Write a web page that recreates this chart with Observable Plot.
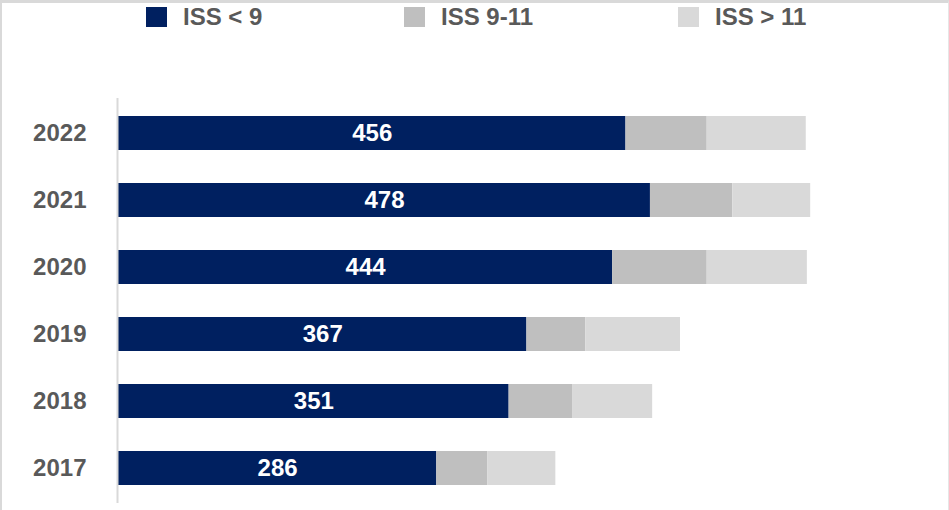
<!DOCTYPE html>
<html>
<head>
<meta charset="utf-8">
<script src="https://cdn.jsdelivr.net/npm/d3@7"></script>
<script src="https://cdn.jsdelivr.net/npm/@observablehq/plot@0.6"></script>
<style>
  html, body { margin: 0; padding: 0; background: #fff; }
  body { width: 949px; height: 510px; position: relative; overflow: hidden;
         font-family: "Liberation Sans", Arial, sans-serif; }
  #frame { position: absolute; left: 0; top: 0; width: 949px; height: 510px; box-sizing: border-box;
           border-top: 3px solid #d9d9d9; border-left: 2px solid #d9d9d9; border-right: 1px solid #e6e6e6;
           pointer-events: none; }
  .sw { position: absolute; top: 7px; width: 21px; height: 20px; }
  .lt { position: absolute; top: 3px; font-size: 24px; font-weight: bold; color: #595959; line-height: 28px; white-space: nowrap; }
  #chart { position: absolute; left: 0; top: 40px; }
</style>
</head>
<body>
<div id="legend"></div>
<div id="chart"></div>
<div id="frame"></div>
<script>
const years = ["2017", "2018", "2019", "2020", "2021", "2022"];
const issLow = [286, 351, 367, 444, 478, 456];
const issMid = [46, 57, 53, 85, 74, 73];
const issHigh = [61, 72, 85, 90, 70, 89];
const seriesNames = ["ISS < 9", "ISS 9-11", "ISS > 11"];
const seriesColors = ["#002060", "#bfbfbf", "#d9d9d9"];

const rows = [];
years.forEach((y, i) => {
  rows.push({year: y, series: seriesNames[0], value: issLow[i]});
  rows.push({year: y, series: seriesNames[1], value: issMid[i]});
  rows.push({year: y, series: seriesNames[2], value: issHigh[i]});
});
const lowRows = years.map((y, i) => ({year: y, value: issLow[i]}));

// legend
const legend = document.getElementById("legend");
const swX = [146, 404, 678];
seriesNames.forEach((name, i) => {
  const s = document.createElement("div");
  s.className = "sw"; s.style.left = swX[i] + "px"; s.style.background = seriesColors[i];
  legend.appendChild(s);
  const t = document.createElement("div");
  t.className = "lt"; t.style.left = (swX[i] + 37) + "px"; t.textContent = name;
  legend.appendChild(t);
});

const chart = Plot.plot({
  width: 949,
  height: 470,
  marginLeft: 118,
  marginRight: 52,
  marginTop: 58,
  marginBottom: 7,
  style: {fontFamily: "'Liberation Sans', Arial, sans-serif", background: "#fff"},
  x: {domain: [0, 700], axis: null},
  y: {domain: years.slice().reverse(), paddingInner: 0.5, paddingOuter: 0.25, label: null},
  color: {domain: seriesNames, range: seriesColors},
  marks: [
    Plot.barX(rows, {y: "year", x: "value", fill: "series", order: seriesNames}),
    Plot.ruleX([0], {stroke: "#d9d9d9", strokeWidth: 2, dx: -1}),
    Plot.axisY({tickSize: 0, tickPadding: 32, fontSize: 24, fontWeight: "bold", fill: "#595959", label: null}),
    Plot.text(lowRows, {y: "year", x: d => d.value / 2, text: d => String(d.value),
      fill: "white", fontSize: 24, fontWeight: "bold"})
  ]
});
document.getElementById("chart").appendChild(chart);
</script>
</body>
</html>
